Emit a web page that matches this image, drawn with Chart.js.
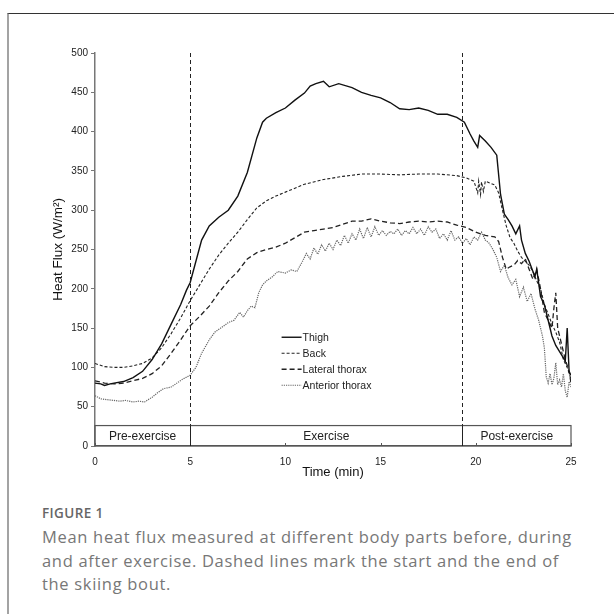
<!DOCTYPE html>
<html>
<head>
<meta charset="utf-8">
<script src="https://cdn.jsdelivr.net/npm/chart.js@4.4.1/dist/chart.umd.min.js"></script>
<style>
html, body { margin: 0; padding: 0; background: #fff; width: 614px; height: 614px; overflow: hidden; }
#frame { position: absolute; left: 7px; top: 13px; right: -2px; bottom: -2px; border-top: 1.5px solid #333; border-left: 2px solid #a3a3a3; }
#heatChart { position: absolute; left: 0; top: 0; }
.fig { position: absolute; left: 42px; top: 505px; font: 600 13.5px 'Open Sans'; color: #666; line-height: 16px; letter-spacing: 0.4px; }
.cap { position: absolute; left: 42px; top: 525px; font: 16.5px 'Open Sans'; color: #777; line-height: 23.5px; white-space: nowrap; letter-spacing: 0.68px; }
</style>
</head>
<body>
<div id="frame"></div>
<canvas id="heatChart" width="614" height="500"></canvas>
<div class="fig">FIGURE 1</div>
<div class="cap">Mean heat flux measured at different body parts before, during<br>and after exercise. Dashed lines mark the start and the end of<br>the skiing bout.</div>
<script>
// Mean heat flux (W/m2) over time (min)
const thighTime = [0,0.3,0.5,0.8,1,1.5,2,2.5,3,3.5,
    4,4.5,4.8,5,5.3,5.6,6,6.5,7,7.5,
    8,8.5,8.8,9,9.5,10,10.5,11,11.3,11.6,
    12,12.3,12.8,13.5,14,14.5,15,15.5,16,16.5,
    17,17.5,18,18.5,19,19.4,19.7,19.9,20.1,20.2,
    20.5,20.8,21.1,21.3,21.5,21.7,21.9,22.1,22.3,22.4,
    22.6,22.8,23,23.1,23.2,23.4,23.6,23.8,24,24.2,
    24.4,24.6,24.7,24.8,24.9,25];
const thighFlux = [80,79,77,79,80,82,87,95,110,130,
    155,180,198,208,235,262,280,291,300,318,
    348,392,412,417,424,430,440,449,458,461,
    464,457,461,456,450,446,443,437,429,428,
    430,427,422,422,418,412,397,388,380,395,
    388,380,370,320,295,288,280,270,280,262,
    245,235,222,215,225,190,180,160,140,128,
    120,112,108,150,95,90];

const backTime = [0,0.5,1,1.5,2,2.5,3,3.5,4,4.5,
    5,5.5,6,6.5,7,7.5,8,8.5,9,9.5,
    10,11,12,13,14,15,16,17,18,19,
    19.5,19.9,20.1,20.15,20.25,20.3,20.4,20.5,21,21.2,
    21.4,21.6,21.8,22,22.2,22.4,22.6,22.8,23,23.2,
    23.4,23.6,23.8,24,24.2,24.4,24.6,24.8,25];
const backFlux = [105,101,100,100,102,105,112,125,143,163,
    185,205,225,243,258,272,288,303,312,318,
    323,333,339,343,346,346,345,346,346,344,
    341,337,322,337,320,336,324,337,332,322,
    300,280,265,258,248,240,235,230,222,210,
    200,180,168,155,145,132,110,100,85];

const lateralTime = [0,0.5,1,1.5,2,2.5,3,3.5,4,4.5,
    5,5.5,6,6.5,7,7.5,8,8.5,9,9.5,
    10,10.5,11,11.5,12,12.5,13,13.5,14,14.5,
    15,15.5,16,16.5,17,17.5,18,18.5,19,19.5,
    20,20.5,21,21.2,21.4,21.6,21.8,22,22.2,22.4,
    22.6,22.8,23,23.2,23.4,23.6,23.8,24,24.1,24.2,
    24.3,24.5,24.7,24.9,25];
const lateralFlux = [83,80,79,80,83,86,92,102,118,135,
    153,165,178,195,210,222,238,246,250,253,
    258,265,272,274,276,278,282,286,286,289,
    286,284,283,285,286,285,286,285,281,278,
    272,268,266,260,240,225,228,230,236,232,
    238,225,212,225,200,170,160,150,175,195,
    150,130,110,95,80];

const anteriorTime = [0,0.3,0.6,1,1.3,1.6,2,2.3,2.6,3,
    3.3,3.6,4,4.3,4.6,5,5.3,5.6,6,6.3,
    6.6,7,7.3,7.6,7.8,8,8.2,8.4,8.6,8.8,
    9,9.3,9.6,10,10.3,10.6,10.9,11.1,11.3,11.5,
    11.7,11.9,12.1,12.3,12.5,12.7,12.9,13.1,13.3,13.5,
    13.7,13.9,14.1,14.3,14.5,14.7,14.9,15.1,15.3,15.5,
    15.7,15.9,16.1,16.3,16.5,16.7,16.9,17.1,17.3,17.5,
    17.7,17.9,18.1,18.3,18.5,18.7,18.9,19.1,19.3,19.5,
    19.7,19.9,20.1,20.3,20.5,20.7,20.9,21.1,21.3,21.5,
    21.7,21.9,22.1,22.3,22.5,22.7,22.9,23.1,23.3,23.5,
    23.6,23.7,23.8,23.9,24,24.1,24.2,24.3,24.4,24.5,
    24.6,24.7,24.8,24.9,25];
const anteriorFlux = [64,60,59,58,57,58,56,57,56,62,
    68,73,75,80,85,90,100,118,135,145,
    150,157,160,170,164,172,178,176,195,205,
    210,215,222,220,224,222,235,245,238,252,
    244,256,248,258,250,262,255,268,258,270,
    262,276,264,278,266,279,268,274,268,273,
    270,276,268,274,270,278,270,276,268,279,
    272,276,264,270,262,274,262,266,258,264,
    256,266,262,272,262,258,250,240,222,230,
    214,205,212,190,202,184,194,175,160,140,
    125,88,80,92,78,86,106,78,84,75,
    92,70,62,82,75];

const seriesNames = ['Thigh', 'Back', 'Lateral thorax', 'Anterior thorax'];
const phaseNames = ['Pre-exercise', 'Exercise', 'Post-exercise'];
const phaseEdges = [0, 5, 19.3, 25];
const phaseBoxTop = 26;
const yTicks = [0, 50, 100, 150, 200, 250, 300, 350, 400, 450, 500];
const xTicks = [0, 5, 10, 15, 20, 25];

const FONT = "'Liberation Sans', Arial, sans-serif";

function points(times, values) {
    return times.map((t, i) => ({ x: t, y: values[i] }));
}

// phase box, start/end lines, inward x ticks and the legend
const overlay = {
    id: 'overlay',
    afterDatasetsDraw(chart) {
        const { ctx, scales: { x, y } } = chart;
        ctx.save();
        const yTop = y.getPixelForValue(phaseBoxTop);
        const yBot = y.getPixelForValue(0);
        const yMax = y.getPixelForValue(500);

        // x ticks pointing up
        ctx.strokeStyle = '#555';
        ctx.lineWidth = 1;
        xTicks.forEach(v => {
            const px = Math.round(x.getPixelForValue(v)) + 0.5;
            ctx.beginPath();
            ctx.moveTo(px, yBot);
            ctx.lineTo(px, yBot - 3);
            ctx.stroke();
        });

        // box
        const x0 = x.getPixelForValue(phaseEdges[0]);
        const x1 = x.getPixelForValue(phaseEdges[phaseEdges.length - 1]);
        ctx.strokeStyle = '#555';
        ctx.lineWidth = 1.2;
        ctx.strokeRect(x0, yTop, x1 - x0, yBot - yTop);

        // start / end of bout
        [phaseEdges[1], phaseEdges[2]].forEach(v => {
            const px = Math.round(x.getPixelForValue(v)) + 0.5;
            ctx.strokeStyle = '#222';
            ctx.lineWidth = 1;
            ctx.setLineDash([4, 3]);
            ctx.beginPath();
            ctx.moveTo(px, yMax);
            ctx.lineTo(px, yTop);
            ctx.stroke();
            ctx.setLineDash([]);
            ctx.beginPath();
            ctx.moveTo(px, yTop);
            ctx.lineTo(px, yBot);
            ctx.stroke();
        });

        // phase labels
        ctx.fillStyle = '#222';
        ctx.font = '12px ' + FONT;
        ctx.textAlign = 'center';
        ctx.textBaseline = 'middle';
        phaseNames.forEach((name, i) => {
            const cx = (x.getPixelForValue(phaseEdges[i]) + x.getPixelForValue(phaseEdges[i + 1])) / 2;
            ctx.fillText(name, cx, (yTop + yBot) / 2 + 1);
        });

        // legend
        const lx = x.getPixelForValue(9.8);
        let ly = y.getPixelForValue(139);
        ctx.font = '10.5px ' + FONT;
        ctx.textAlign = 'left';
        chart.data.datasets.forEach(ds => {
            ctx.strokeStyle = ds.borderColor;
            ctx.lineWidth = ds.borderWidth;
            ctx.setLineDash(ds.borderDash || []);
            ctx.beginPath();
            ctx.moveTo(lx, ly + 0.5);
            ctx.lineTo(lx + 20, ly + 0.5);
            ctx.stroke();
            ctx.setLineDash([]);
            ctx.fillStyle = '#222';
            ctx.fillText(ds.label, lx + 21, ly + 1);
            ly += 16;
        });
        ctx.restore();
    }
};

const ctx = document.getElementById('heatChart').getContext('2d');
new Chart(ctx, {
    type: 'line',
    data: {
        datasets: [{
            label: seriesNames[0],
            data: points(thighTime, thighFlux),
            borderColor: '#111',
            borderWidth: 1.4
        }, {
            label: seriesNames[1],
            data: points(backTime, backFlux),
            borderColor: '#222',
            borderWidth: 1.1,
            borderDash: [3, 2]
        }, {
            label: seriesNames[2],
            data: points(lateralTime, lateralFlux),
            borderColor: '#222',
            borderWidth: 1.3,
            borderDash: [5, 3]
        }, {
            label: seriesNames[3],
            data: points(anteriorTime, anteriorFlux),
            borderColor: '#666',
            borderWidth: 1.2,
            borderDash: [1.2, 1]
        }]
    },
    options: {
        responsive: false,
        animation: false,
        elements: { point: { radius: 0 }, line: { tension: 0 } },
        layout: { padding: { left: 46, top: 53, right: 43, bottom: 16 } },
        plugins: {
            legend: { display: false },
            tooltip: { enabled: false }
        },
        scales: {
            x: {
                type: 'linear',
                min: 0,
                max: 25,
                afterBuildTicks: s => { s.ticks = xTicks.map(v => ({ value: v })); },
                afterFit: s => { s.height = 38; },
                grid: { display: false },
                border: { display: true, color: '#555', width: 1.2 },
                ticks: { padding: 2, color: '#222', font: { family: FONT, size: 10 }, maxRotation: 0, autoSkip: false },
                title: { display: true, text: 'Time (min)', color: '#111', font: { family: FONT, size: 13 }, padding: { top: 0, bottom: 4 } }
            },
            y: {
                min: 0,
                max: 500,
                afterBuildTicks: s => { s.ticks = yTicks.map(v => ({ value: v })); },
                afterFit: s => { s.width = 49; },
                grid: { display: true, drawOnChartArea: false, drawTicks: true, tickLength: 4, color: '#777' },
                border: { display: true, color: '#777', width: 1.5 },
                ticks: { padding: 3, color: '#222', font: { family: FONT, size: 10 } },
                title: { display: true, text: 'Heat Flux (W/m²)', color: '#111', font: { family: FONT, size: 13.5 }, padding: { top: 4, bottom: 0 } }
            }
        }
    },
    plugins: [overlay]
});
</script>
</body>
</html>
